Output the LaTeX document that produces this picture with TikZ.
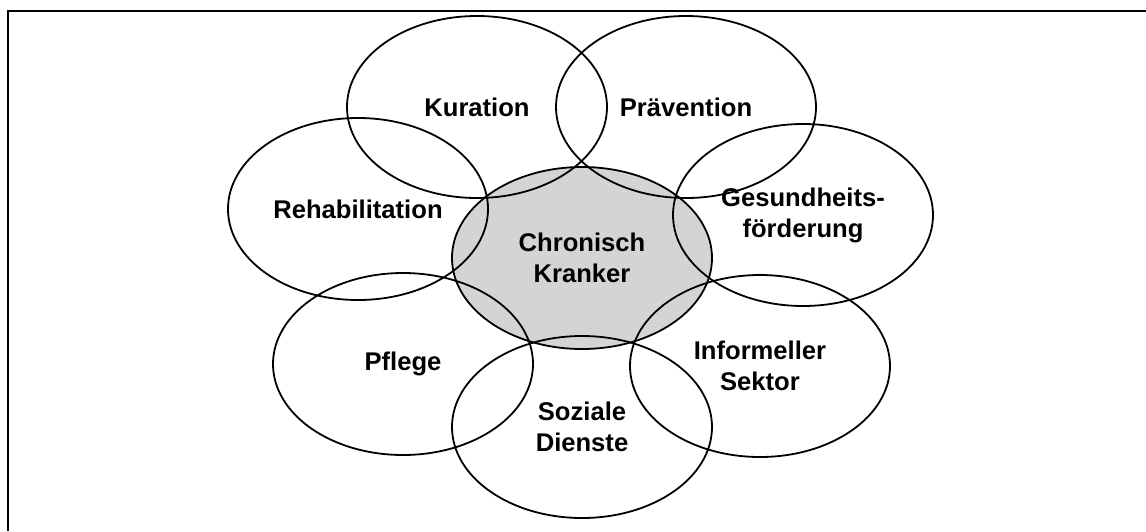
\documentclass[tikz,border=0pt]{standalone}
\usepackage{fontspec}
\setmainfont{Liberation Sans}
\usetikzlibrary{shapes.geometric}

\begin{document}
\begin{tikzpicture}[x=0.5pt,y=-0.5pt,
  petal/.style={ellipse,draw,line width=0.9pt,minimum width=130pt,minimum height=91pt,
    inner sep=0pt,align=center,font=\fontsize{12.8}{15.5}\selectfont\bfseries}]
\useasboundingbox (0,0) rectangle (1146,531);
\draw[line width=1pt] (1146,11) -- (8,11) -- (8,531);

% centre first, so that the outer ellipses lie over its grey
\node[petal,fill=black!17] (C) at (582,258) {Chronisch\\Kranker};

\node[petal] (K) at (477,107) {Kuration};
\node[petal] (P) at (686,107) {Pr\"avention};
\node[petal] (R) at (358,209) {Rehabilitation};
\node[petal] (G) at (803,215) {Gesundheits-\\f\"orderung};
\node[petal] (Pf) at (403,364) {Pflege};
\node[petal] (I) at (760,366) {Informeller\\Sektor};
\node[petal] (S) at (582,427) {Soziale\\Dienste};
\end{tikzpicture}
\end{document}
